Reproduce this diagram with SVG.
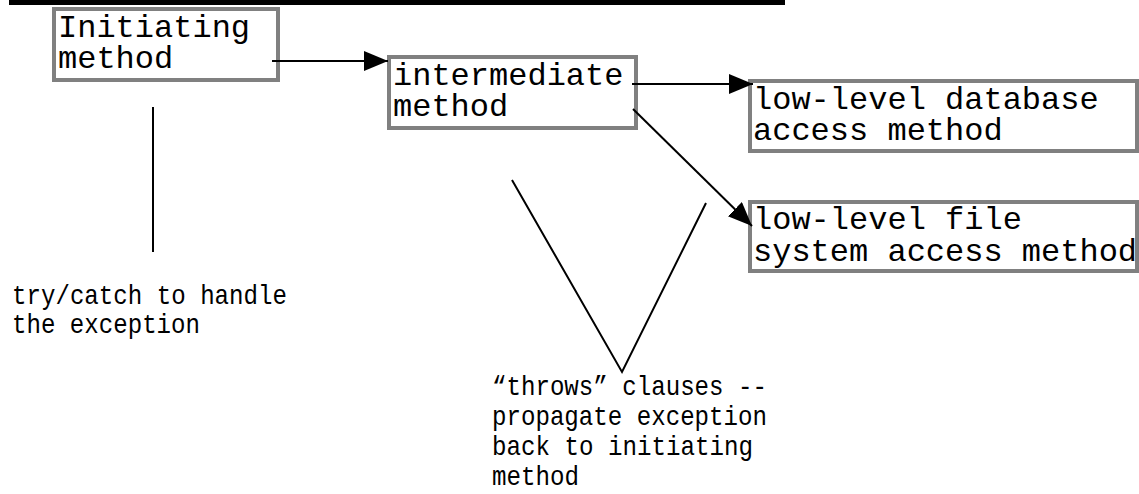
<svg xmlns="http://www.w3.org/2000/svg" width="1139" height="494" viewBox="0 0 1139 494">
  <defs>
    <style>
      .box { fill: #ffffff; stroke: #808080; stroke-width: 4; }
      .lbl { font-family: "Liberation Mono", "Courier New", monospace; font-size: 32px; fill: #000000; }
      .note { font-family: "Liberation Mono", "Courier New", monospace; font-size: 28px; fill: #000000; }
      .wire { fill: none; stroke: #000000; stroke-width: 2; }
    </style>
    <marker id="head" markerUnits="userSpaceOnUse" markerWidth="26" markerHeight="22" refX="24" refY="10" orient="auto">
      <path d="M0,0 L24,10 L0,20 z" fill="#000000"/>
    </marker>
  </defs>

  <rect width="1139" height="494" fill="#ffffff"/>

  <!-- heading rule -->
  <rect x="9" y="0" width="776" height="5" fill="#000000"/>

  <g id="initiating">
    <rect class="box" x="54" y="9" width="224" height="71"/>
    <text class="lbl" x="58" y="37">Initiating</text>
    <text class="lbl" x="58" y="68">method</text>
  </g>

  <g id="intermediate">
    <rect class="box" x="389" y="57" width="247" height="71"/>
    <text class="lbl" x="393" y="85">intermediate</text>
    <text class="lbl" x="393" y="116">method</text>
  </g>

  <g id="db-access">
    <rect class="box" x="750" y="81" width="387" height="70"/>
    <text class="lbl" x="753" y="109">low-level database</text>
    <text class="lbl" x="753" y="140">access method</text>
  </g>

  <g id="fs-access">
    <rect class="box" x="750" y="202" width="387" height="69"/>
    <text class="lbl" x="753" y="229">low-level file</text>
    <text class="lbl" x="753" y="261">system access method</text>
  </g>

  <g id="connectors">
    <line class="wire" x1="272" y1="61" x2="388" y2="61" marker-end="url(#head)"/>
    <line class="wire" x1="632" y1="84" x2="753" y2="84" marker-end="url(#head)"/>
    <line class="wire" x1="633" y1="109" x2="752" y2="226" marker-end="url(#head)"/>
    <line class="wire" x1="153" y1="107" x2="153" y2="252"/>
    <polyline class="wire" points="512,180 622,372 706,203"/>
  </g>

  <!-- notes use a narrower advance (14.5px per character) -->
  <g id="try-catch-note">
    <text class="note" x="12" y="304" textLength="275" lengthAdjust="spacingAndGlyphs">try/catch to handle</text>
    <text class="note" x="12" y="333" textLength="188" lengthAdjust="spacingAndGlyphs">the exception</text>
  </g>

  <g id="throws-note">
    <text class="note" x="492" y="395" textLength="275" lengthAdjust="spacingAndGlyphs">“throws” clauses --</text>
    <text class="note" x="492" y="425" textLength="275" lengthAdjust="spacingAndGlyphs">propagate exception</text>
    <text class="note" x="492" y="455" textLength="261" lengthAdjust="spacingAndGlyphs">back to initiating</text>
    <text class="note" x="492" y="485" textLength="87" lengthAdjust="spacingAndGlyphs">method</text>
  </g>
</svg>
